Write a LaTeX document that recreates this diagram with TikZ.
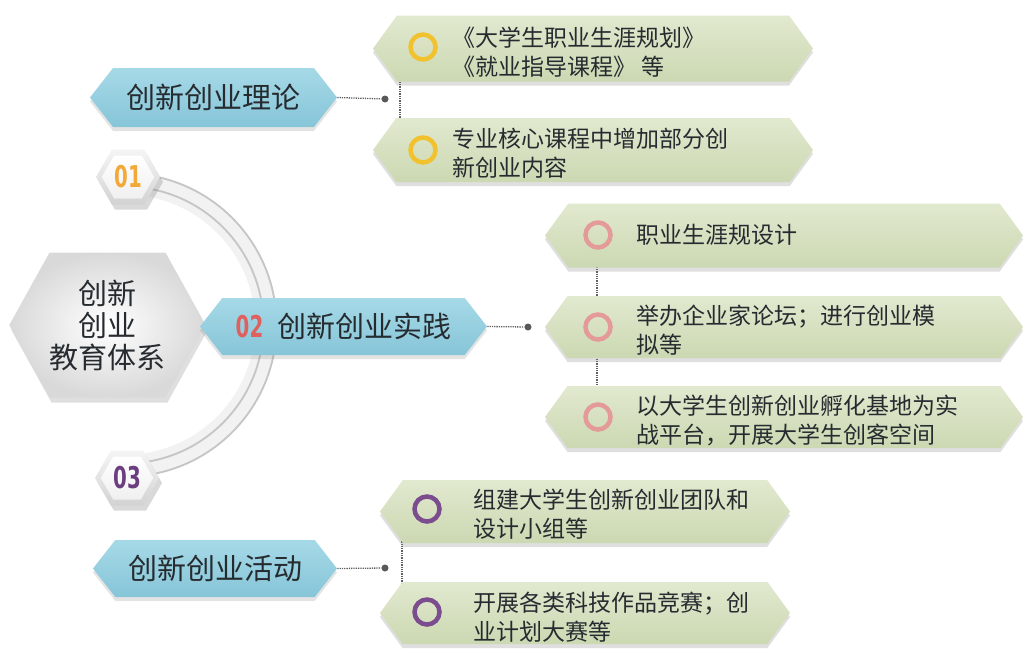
\documentclass[tikz,border=0pt]{standalone}
\usepackage{fontspec}
\setmainfont{Noto Sans CJK SC}
\newfontfamily\numfont[FakeStretch=0.66]{DejaVu Sans}
\usetikzlibrary{shapes.symbols,shadows}
\definecolor{bluebot}{HTML}{86C5D8}
\definecolor{bluetop}{HTML}{A6D9E7}
\definecolor{greentop}{HTML}{E1E9CF}
\definecolor{greenbot}{HTML}{CCD8B2}
\definecolor{txt}{HTML}{262B30}
\definecolor{ringY}{HTML}{F2C12E}
\definecolor{ringP}{HTML}{E39A98}
\definecolor{ringV}{HTML}{7B4C8E}
\definecolor{numO}{HTML}{F3A93A}
\definecolor{numR}{HTML}{E0605E}
\definecolor{numV}{HTML}{6B3E80}
\tikzset{
  hexbox/.style={signal, signal to=east and west, inner sep=0pt, draw=none},
  bluebox/.style={hexbox, signal pointer angle=104, top color=bluetop, bottom color=bluebot,
    drop shadow={opacity=0.22, shadow xshift=0pt, shadow yshift=-4pt},
    text=txt, font=\fontsize{29}{32}\selectfont},
  greenbox/.style={hexbox, signal pointer angle=108, top color=greentop, bottom color=greenbot,
    drop shadow={opacity=0.25, shadow xshift=0pt, shadow yshift=-4pt}},
  ring/.style={circle, draw=#1, line width=4.5pt, minimum size=25pt, inner sep=0pt},
  item/.style={anchor=west, align=left, text=txt, font=\fontsize{23}{29}\selectfont},
  conn/.style={densely dotted, line width=1.3pt, draw=gray!75!black},
  dotnode/.style={circle, fill=gray!70!black, minimum size=7pt, inner sep=0pt},
  numhex/.style={hexbox, signal pointer angle=120, minimum width=64pt, minimum height=55pt,
    top color=gray!8, bottom color=gray!35,
    drop shadow={opacity=0.3, shadow xshift=3pt, shadow yshift=-5pt}},
  numin/.style={hexbox, signal pointer angle=120, minimum width=50pt, minimum height=43pt,
    top color=white, bottom color=gray!12, font=\numfont\bfseries\fontsize{30}{30}\selectfont}
}
\begin{document}
\begin{tikzpicture}[x=1pt,y=-1pt]
\useasboundingbox (0,0) rectangle (1032,651);
% arc (centre 125,325)
\draw[line width=14pt, gray!30, opacity=0.35] (134.6,188) arc[start angle=-86, end angle=86, radius=137];
\draw[line width=15pt, gray!45] (135.1,180.4) arc[start angle=-86, end angle=86, radius=145];
\draw[line width=11pt, gray!10] (135.1,180.4) arc[start angle=-86, end angle=86, radius=145];
% central hexagon
\node[hexbox, signal pointer angle=122, minimum width=185pt, minimum height=145pt,
  shading=radial, inner color=white, outer color=gray!30,
  drop shadow={opacity=0.25, shadow xshift=2pt, shadow yshift=-5pt},
  align=center, text=txt, font=\fontsize{29}{32}\selectfont] (core) at (107.5,325) {创新\\创业\\教育体系};
% number hexagons
\node[numhex] (h1o) at (128,177) {};
\node[numin, text=numO] (h1) at (128,177) {01};
\node[numhex] (h3o) at (127,478) {};
\node[numin, text=numV] (h3) at (127,478) {03};
% blue boxes
\node[bluebox, minimum width=247pt, minimum height=59pt] (b1) at (213.5,97.5) {创新创业理论};
\node[bluebox, minimum width=287pt, minimum height=57pt] (b2) at (343.5,326.5)
  {{\numfont\bfseries\color{numR}\fontsize{30}{30}\selectfont 02}\hspace{14pt}创新创业实践};
\node[bluebox, minimum width=244pt, minimum height=57pt] (b3) at (215,568.5) {创新创业活动};
% dots and connectors
\node[dotnode] (d1) at (385,99) {};
\node[dotnode] (d2) at (528,327) {};
\node[dotnode] (d3) at (385,568) {};
\coordinate (v1a) at (400,68); \coordinate (v1b) at (400,127);
\coordinate (v2a) at (597,262); \coordinate (v2b) at (597,392);
\coordinate (v3a) at (402,532); \coordinate (v3b) at (402,594);
\draw[conn] (b1.east) -- (d1);
\draw[conn] (b2.east) -- (d2);
\draw[conn] (b3.east) -- (d3);
\draw[conn] (v1a) -- (v1b);
\draw[conn] (v2a) -- (v2b);
\draw[conn] (v3a) -- (v3b);
% green boxes top
\node[greenbox, minimum width=440pt, minimum height=66pt] (g1) at (593,48.5) {};
\node[greenbox, minimum width=440pt, minimum height=64pt] (g2) at (593,150) {};
\node[ring=ringY] (r1) at (423,47) {};
\node[ring=ringY] (r2) at (423,150) {};
\node[item] (t1) at (449,52) {《大学生职业生涯规划》\\《就业指导课程》 等};
\node[item] (t2) at (449,153) {专业核心课程中增加部分创\\新创业内容};
% green boxes middle
\node[greenbox, minimum width=478pt, minimum height=64pt] (g3) at (784,235.5) {};
\node[greenbox, minimum width=478pt, minimum height=62pt] (g4) at (784,327) {};
\node[greenbox, minimum width=478pt, minimum height=62pt] (g5) at (784,417) {};
\node[ring=ringP] (r3) at (598,235) {};
\node[ring=ringP] (r4) at (598,327) {};
\node[ring=ringP] (r5) at (598,417) {};
\node[item] (t3) at (633,235) {职业生涯规设计};
\node[item] (t4) at (633,330) {举办企业家论坛；进行创业模\\拟等};
\node[item] (t5) at (633,420) {以大学生创新创业孵化基地为实\\战平台，开展大学生创客空间};
% green boxes bottom
\node[greenbox, minimum width=410pt, minimum height=63pt] (g6) at (585,511.5) {};
\node[greenbox, minimum width=410pt, minimum height=62pt] (g7) at (585,613) {};
\node[ring=ringV] (r6) at (427,509) {};
\node[ring=ringV] (r7) at (427,612) {};
\node[item] (t6) at (470,514) {组建大学生创新创业团队和\\设计小组等};
\node[item] (t7) at (470,617) {开展各类科技作品竞赛；创\\业计划大赛等};
\end{tikzpicture}
\end{document}
